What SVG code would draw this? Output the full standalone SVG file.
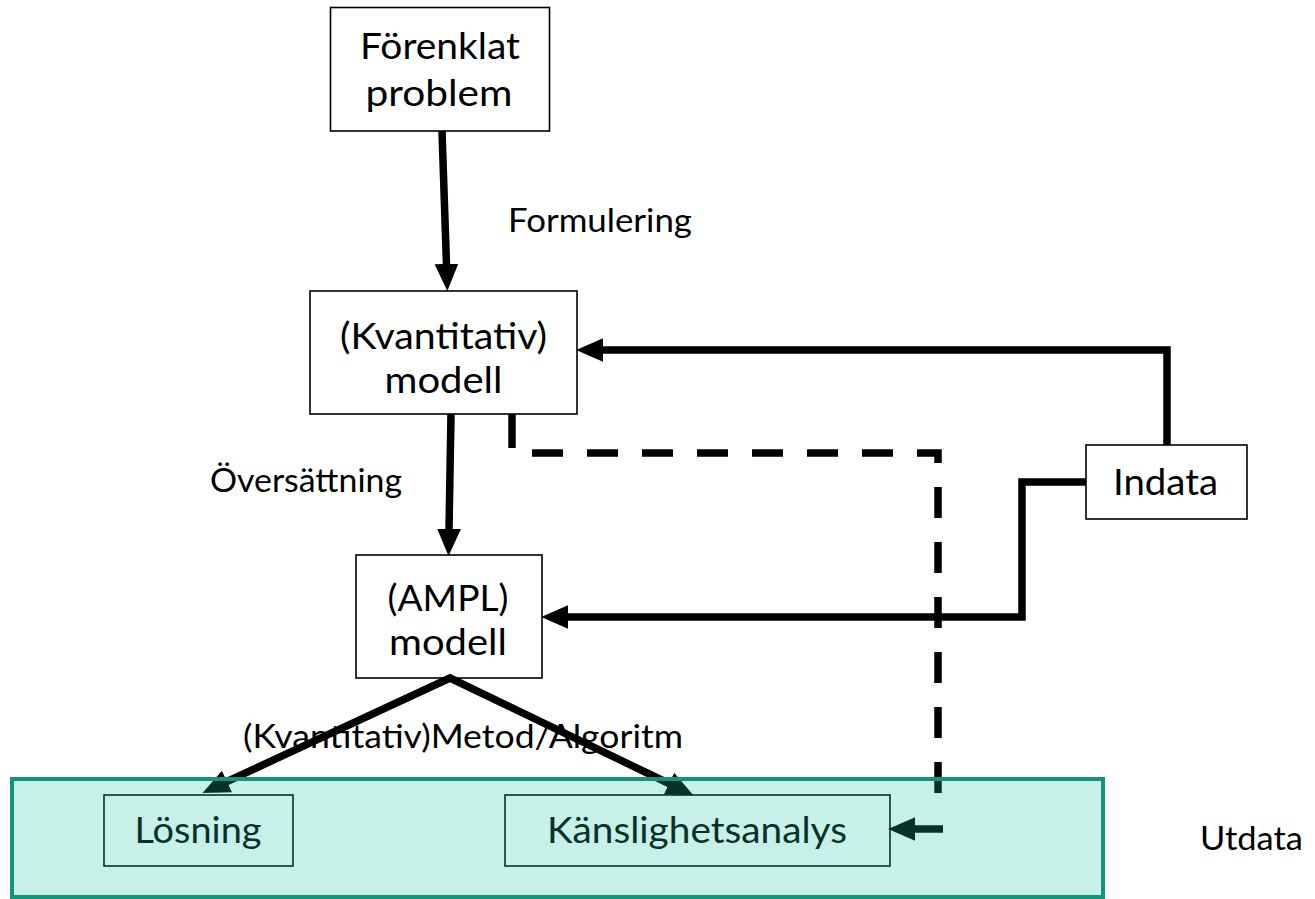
<svg xmlns="http://www.w3.org/2000/svg" width="1315" height="899" viewBox="0 0 1315 899">
<defs>
<style>
.box{fill:#fff;stroke:#000;stroke-width:1.6}
.nt{font-family:Lato,"Liberation Sans",sans-serif;font-size:37.5px;fill:#000;text-anchor:middle}
.lb{font-family:Lato,"Liberation Sans",sans-serif;font-size:33px;fill:#000}
.ln{fill:none;stroke:#000;stroke-width:7.5}
.dash{fill:none;stroke:#000;stroke-width:7.5;stroke-dasharray:31 24}
</style>
<marker id="ah" markerUnits="userSpaceOnUse" markerWidth="27" markerHeight="24" refX="1" refY="11" orient="auto-start-reverse" viewBox="0 0 25 22">
<path d="M0,0 L25,11 L0,22 Z" fill="#000"/>
</marker>
</defs>

<g id="node-forenklat">
<rect class="box" x="330.5" y="7.5" width="219" height="123.5"/>
<text class="nt" x="440" y="59" textLength="160" lengthAdjust="spacingAndGlyphs">Förenklat</text>
<text class="nt" x="439" y="106" textLength="147" lengthAdjust="spacingAndGlyphs">problem</text>
</g>
<g id="node-kvantitativ">
<rect class="box" x="310" y="291" width="267" height="123"/>
<text class="nt" x="443.5" y="349" textLength="207" lengthAdjust="spacingAndGlyphs">(Kvantitativ)</text>
<text class="nt" x="443.5" y="393" textLength="118" lengthAdjust="spacingAndGlyphs">modell</text>
</g>
<g id="node-ampl">
<rect class="box" x="356" y="555" width="186" height="123"/>
<text class="nt" x="448" y="611" textLength="121" lengthAdjust="spacingAndGlyphs">(AMPL)</text>
<text class="nt" x="448" y="655" textLength="118" lengthAdjust="spacingAndGlyphs">modell</text>
</g>
<g id="node-indata">
<rect class="box" x="1086" y="445" width="161" height="74"/>
<text class="nt" x="1165.5" y="495" textLength="105" lengthAdjust="spacingAndGlyphs">Indata</text>
</g>
<g id="node-losning">
<rect class="box" x="104" y="795" width="189" height="71"/>
<text class="nt" x="198" y="843" textLength="127" lengthAdjust="spacingAndGlyphs">Lösning</text>
</g>
<g id="node-kanslighet">
<rect class="box" x="505" y="795" width="385" height="71"/>
<text class="nt" x="697" y="843" textLength="300" lengthAdjust="spacingAndGlyphs">Känslighetsanalys</text>
</g>

<g id="labels">
<text class="lb" x="508" y="232" textLength="184" lengthAdjust="spacingAndGlyphs">Formulering</text>
<text class="lb" x="210" y="492" textLength="192" lengthAdjust="spacingAndGlyphs">Översättning</text>
<text class="lb" x="243" y="748" textLength="440" lengthAdjust="spacingAndGlyphs">(Kvantitativ)Metod/Algoritm</text>
<text class="lb" x="1200" y="850" textLength="103" lengthAdjust="spacingAndGlyphs">Utdata</text>
</g>

<g id="connectors">
<path class="ln" d="M442,131 L446.5,265" marker-end="url(#ah)"/>
<path class="ln" d="M1167,445 V350 H602" marker-end="url(#ah)"/>
<path class="ln" d="M1086,482 H1022 V617 H567" marker-end="url(#ah)"/>
<path class="ln" d="M451,414 L449,530" marker-end="url(#ah)"/>
<path class="ln" d="M226,782 L450,678 L670,784" marker-start="url(#ah)" marker-end="url(#ah)"/>
<path class="ln" d="M512,414 V448"/>
<path class="dash" d="M532,453 H938 V806"/>
<path class="ln" d="M943,829 H914" marker-end="url(#ah)"/>
</g>

<g id="group-utdata">
<rect x="12" y="779" width="1091" height="118" fill="#1bc3a3" fill-opacity="0.25" stroke="#16917a" stroke-width="4"/>
</g>
</svg>
